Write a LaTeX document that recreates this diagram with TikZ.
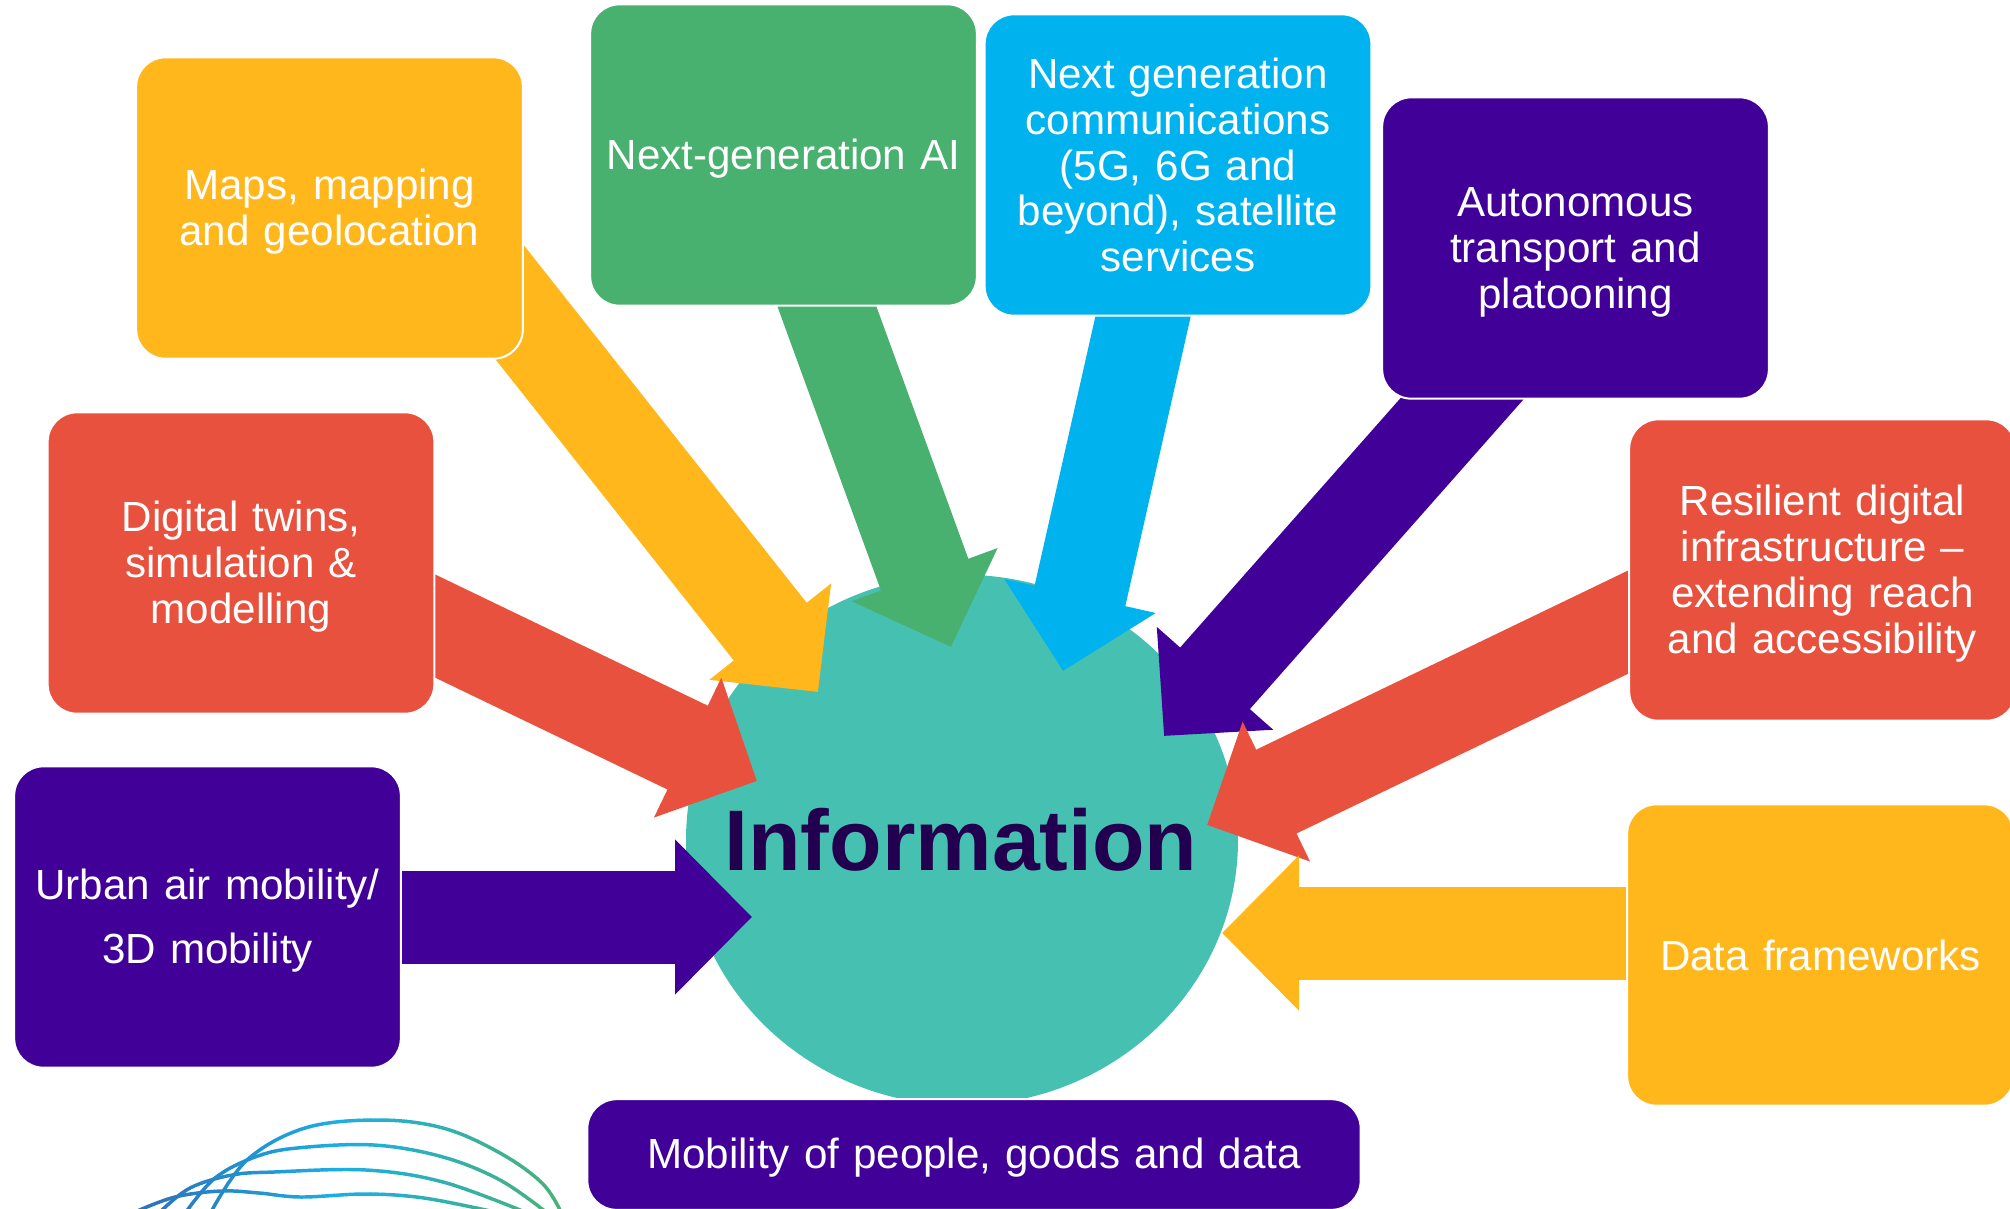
\documentclass[tikz,border=0pt]{standalone}
\usepackage{fontspec}
\setmainfont{Liberation Sans}
\usetikzlibrary{arrows.meta,backgrounds,shapes.geometric}
\definecolor{amberbox}{HTML}{FFB71B}
\definecolor{greenbox}{HTML}{49B170}
\definecolor{cyanbox}{HTML}{00B3EF}
\definecolor{purplebox}{HTML}{410098}
\definecolor{redbox}{HTML}{E8513D}
\definecolor{tealball}{HTML}{46C1B1}
\definecolor{darkword}{HTML}{22004F}
\definecolor{waveblue}{HTML}{2B75B9}
\definecolor{wavecyan}{HTML}{1BAEE5}
\definecolor{wavegreen}{HTML}{4BB272}
\tikzset{every picture/.style={line width=0.75pt}}
\tikzset{
	infobox/.style={draw=white,line width=1.5pt,rounded corners=22pt,text=white,align=center,
		font=\fontsize{31.6}{34.4}\selectfont,text width=284pt,inner sep=0pt,
		minimum width=290pt,minimum height=226pt},
	lowtext/.style={execute at begin node=\rule{0pt}{28pt}},
	flowarrow/.style={line width=69.75pt,shorten <=-50pt,-{Triangle[length=57.75pt,width=113pt]}}
}
\newcommand{\wavelines}{
	\draw[line width=2.6pt] plot[smooth,tension=0.6] coordinates {(211,1212) (247,1160) (305,1128) (378,1120) (443,1128) (500,1153) (542,1183) (561,1212)};
	\draw[line width=2.6pt] plot[smooth,tension=0.6] coordinates {(186,1212) (215,1178) (255,1157) (297,1148) (374,1145) (443,1157) (500,1180) (546,1212)};
	\draw[line width=2.6pt] plot[smooth,tension=0.6] coordinates {(160,1212) (190,1188) (232,1175) (274,1172) (366,1170) (443,1182) (525,1212)};
	\draw[line width=2.6pt] plot[smooth,tension=0.6] coordinates {(135,1212) (175,1197) (221,1191) (259,1193) (301,1197) (366,1194) (424,1198) (495,1212)};
}

\begin{document}
\begin{tikzpicture}[x=0.75pt,y=0.75pt,yscale=-1,xscale=1]
	\useasboundingbox (0,0) rectangle (2010,1208);
	\clip (0,0) rectangle (2010,1208);

	% Boxes
	\node[infobox,lowtext,fill=amberbox] (mapsbox) at (329.5,208) {Maps, mapping\\and geolocation};
	\node[infobox,lowtext,fill=greenbox] (aibox) at (783.5,155) {Next-generation AI};
	\node[infobox,fill=cyanbox] (commsbox) at (1178,165) {Next generation\\communications\\(5G, 6G and\\beyond), satellite\\services};
	\node[infobox,lowtext,fill=purplebox] (autobox) at (1575.5,248) {Autonomous\\transport and\\platooning};
	\node[infobox,lowtext,fill=redbox] (resilbox) at (1822.5,570) {Resilient digital\\infrastructure --\\extending reach\\and accessibility};
	\node[infobox,lowtext,fill=redbox] (twinsbox) at (241,563) {Digital twins,\\simulation \&\\modelling};
	\node[infobox,fill=amberbox] (databox) at (1820.5,955) {Data frameworks};
	\node[infobox,lowtext,fill=purplebox,font=\fontsize{31.6}{48}\selectfont] (urbanbox) at (207.5,917) {Urban air mobility/\\3D mobility};
	\node[infobox,lowtext,fill=purplebox,minimum width=580pt,text width=560pt,minimum height=83pt] (mobilitybox) at (974,1154.5) {Mobility of people, goods and data};

	% Arrow tips
	\coordinate (mapstip) at (818,692);
	\coordinate (aitip) at (951,647);
	\coordinate (commstip) at (1063,671);
	\coordinate (autotip) at (1164,736);
	\coordinate (resiltip) at (1207,825);
	\coordinate (twinstip) at (757,781);
	\coordinate (urbantip) at (752,917);
	\coordinate (datatip) at (1222,933);

	\begin{scope}[on background layer]
		% Centre
		\node[ellipse,fill=tealball,minimum width=414pt,minimum height=398pt,inner sep=0pt] (infoball) at (962,840) {};

		% Arrows
		\draw[flowarrow,amberbox] (mapsbox.-30.4) -- (mapstip);
		\draw[flowarrow,greenbox] (aibox.-74.2) -- (aitip);
		\draw[flowarrow,cyanbox] (commsbox.-103.7) -- (commstip);
		\draw[flowarrow,purplebox] (autobox.-127.5) -- (autotip);
		\draw[flowarrow,redbox] (resilbox.-165.9) -- (resiltip);
		\draw[flowarrow,redbox] (twinsbox.-18.45) -- (twinstip);
		\draw[flowarrow,purplebox] (urbanbox.east) -- (urbantip);
		\draw[flowarrow,amberbox] (datatip -| databox.west) -- (datatip);
	\end{scope}

	% Centre word
	\node[text=darkword,inner sep=0pt,font=\fontsize{64.5}{70}\selectfont\bfseries] (infoword) at (961,840) {Information};

	% Waves
	\foreach \bandx in {130,142,...,574}{
		\pgfmathtruncatemacro{\bandmix}{min(100,max(0,(\bandx-150)/1.8))}
		\pgfmathtruncatemacro{\bandgreen}{min(100,max(0,(\bandx-330)/2.3))}
		\ifnum\bandgreen>0
			\colorlet{bandcolor}{wavegreen!\bandgreen!wavecyan}
		\else
			\colorlet{bandcolor}{wavecyan!\bandmix!waveblue}
		\fi
		\begin{scope}[color=bandcolor]
			\clip (\bandx,1100) rectangle (\bandx+12.5,1208);
			\wavelines
		\end{scope}
	}
\end{tikzpicture}
\end{document}
